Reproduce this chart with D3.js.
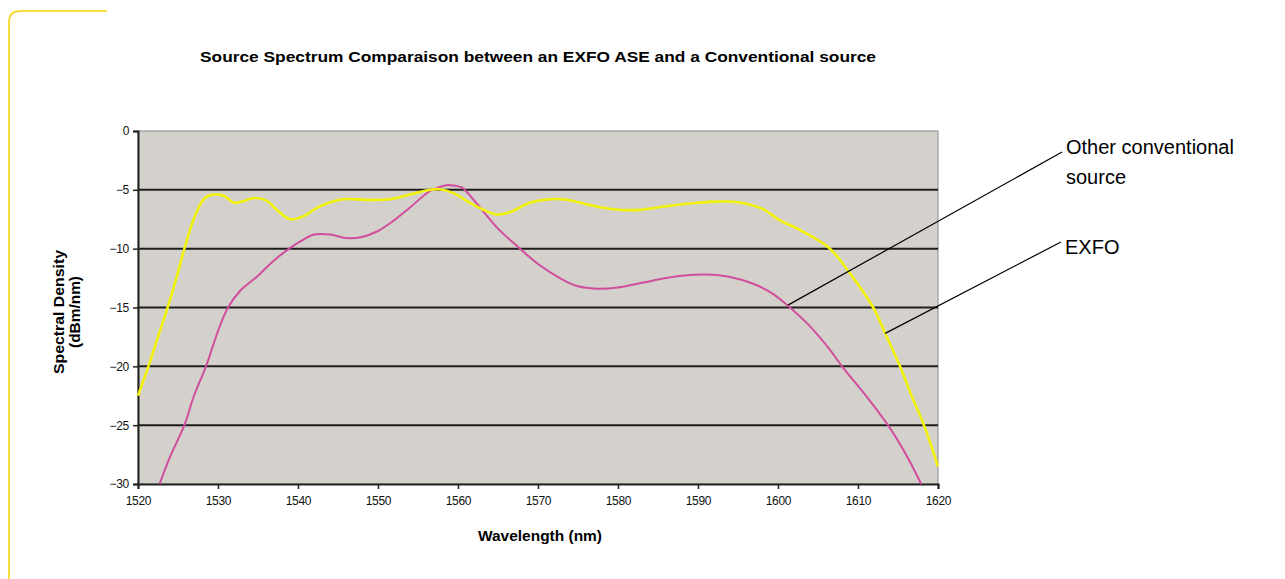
<!doctype html>
<html>
<head>
  <meta charset="utf-8" />
  <title>Source Spectrum Comparaison</title>
  <script src="https://cdn.jsdelivr.net/npm/d3@7"></script>
  <style>
  html,body{margin:0;padding:0;background:#fff;}
  svg{display:block;}
  .tick text{font-family:"Liberation Sans",Arial,sans-serif;font-size:12px;fill:#111;letter-spacing:-0.3px;}
  </style>
</head>
<body>
<div id="chart"></div>
<script type="text/javascript">
// wavelength (nm) / density (dBm/nm)
var exfoNm = [1520,1521.3,1522.5,1523.7,1524.8,1525.8,1526.9,1528,1528.8,1530.7,1532,1533,1534.6,1536,1537.5,1539,1540.5,1542.75,1545.6,1548.5,1551.5,1554,1556.5,1557.75,1559.5,1562,1564.8,1566.5,1569,1571.5,1573.6,1576.5,1579.4,1582.75,1586,1590,1592.5,1595,1598,1600.25,1603,1606.5,1609,1611.9,1613.4,1615.25,1616.7,1618.25,1620];
var exfoDb = [-22.5,-20,-17.5,-15,-12.5,-10,-7.6,-6.0,-5.5,-5.5,-6.1,-6.0,-5.7,-5.9,-6.8,-7.5,-7.3,-6.4,-5.8,-5.85,-5.8,-5.4,-5.0,-4.95,-5.3,-6.3,-7.1,-6.9,-6.1,-5.8,-5.85,-6.3,-6.65,-6.7,-6.4,-6.1,-6.0,-6.05,-6.6,-7.6,-8.5,-10,-12.1,-15,-17.2,-20,-22.5,-25,-28.5];

var otherNm = [1522.7,1524,1525.8,1527,1528.5,1530,1531.25,1532.75,1535,1537,1538.9,1540.5,1542,1544,1546,1548,1550,1552,1554,1556.5,1558,1559,1560.5,1561,1563,1565,1567.75,1570,1573,1575,1577.3,1580,1583,1586,1588,1591,1594,1597,1599.5,1601.5,1604,1606.5,1608,1611,1613.75,1616,1617.9];
var otherDb = [-30,-27.7,-25,-22.5,-20,-17,-15,-13.6,-12.3,-11,-10,-9.3,-8.8,-8.8,-9.1,-9.0,-8.5,-7.6,-6.5,-5.1,-4.7,-4.6,-4.8,-5.1,-6.7,-8.3,-10,-11.3,-12.6,-13.2,-13.4,-13.3,-12.9,-12.5,-12.3,-12.2,-12.4,-13.0,-13.9,-15,-16.6,-18.6,-20,-22.5,-25,-27.5,-30];

var xTicks = [1520,1530,1540,1550,1560,1570,1580,1590,1600,1610,1620];
var yTicks = [0,-5,-10,-15,-20,-25,-30];

var W=1285,H=579;
var pLeft=138,pRight=938,pTop=131,pBottom=484;

var svg = d3.select("#chart").append("svg").attr("width",W).attr("height",H);

// yellow frame round the corner
svg.append("path")
   .attr("d","M9,579 L9,22 Q9,11 20,11 L107,11")
   .attr("fill","none").attr("stroke","#f7dc3c").attr("stroke-width",2);

var x = d3.scaleLinear().domain([1520,1620]).range([pLeft,pRight]);
var y = d3.scaleLinear().domain([-30,0]).range([pBottom,pTop]);

svg.append("rect").attr("x",pLeft).attr("y",pTop).attr("width",pRight-pLeft).attr("height",pBottom-pTop)
   .attr("fill","#d4d0cb").attr("stroke","#9a9a9a").attr("stroke-width",1.2);

// grid lines
svg.append("g").selectAll("line").data(yTicks.filter(function(d){return d>-30 && d<0;}))
   .enter().append("line")
   .attr("x1",pLeft).attr("x2",pRight)
   .attr("y1",function(d){return y(d);}).attr("y2",function(d){return y(d);})
   .attr("stroke","#1e1e1e").attr("stroke-width",2);

var yAxis = svg.append("g").attr("transform","translate("+pLeft+",0)")
   .call(d3.axisLeft(y).tickValues(yTicks).tickSize(5).tickPadding(4));
var xAxis = svg.append("g").attr("transform","translate(0,"+pBottom+")")
   .call(d3.axisBottom(x).tickValues(xTicks).tickSize(5).tickPadding(7).tickFormat(d3.format("d")));
[yAxis,xAxis].forEach(function(a){
  a.select(".domain").attr("stroke","#222").attr("stroke-width",2);
  a.selectAll(".tick line").attr("stroke","#222").attr("stroke-width",1.5);
});

var line = d3.line()
   .x(function(d){return x(d[0]);})
   .y(function(d){return y(d[1]);})
   .curve(d3.curveCatmullRom.alpha(0.5));

svg.append("path").datum(d3.zip(otherNm,otherDb))
   .attr("d",line).attr("fill","none").attr("stroke","#d14d9e").attr("stroke-width",2);
svg.append("path").datum(d3.zip(exfoNm,exfoDb))
   .attr("d",line).attr("fill","none").attr("stroke","#f2f20a").attr("stroke-width",2.6);

var bold = '"Liberation Sans",Arial,sans-serif';

svg.append("text").attr("x",538).attr("y",62).attr("text-anchor","middle")
   .attr("font-family",bold).attr("font-weight","bold").attr("font-size",15)
   .attr("textLength",676).attr("lengthAdjust","spacingAndGlyphs")
   .text("Source Spectrum Comparaison between an EXFO ASE and a Conventional source");

svg.append("text").attr("x",540).attr("y",541).attr("text-anchor","middle")
   .attr("font-family",bold).attr("font-weight","bold").attr("font-size",15)
   .attr("textLength",124).attr("lengthAdjust","spacingAndGlyphs")
   .text("Wavelength (nm)");

var yl = svg.append("text").attr("transform","translate(64,312) rotate(-90)")
   .attr("text-anchor","middle").attr("font-family",bold).attr("font-weight","bold").attr("font-size",15);
yl.append("tspan").attr("x",0).attr("dy",0).attr("textLength",124).attr("lengthAdjust","spacingAndGlyphs").text("Spectral Density");
yl.append("tspan").attr("x",0).attr("dy",16).attr("textLength",72).attr("lengthAdjust","spacingAndGlyphs").text("(dBm/nm)");

// callouts
var ann = '"Liberation Sans",Arial,Helvetica,sans-serif';
svg.append("line").attr("x1",x(1601.25)).attr("y1",y(-14.8)).attr("x2",1062).attr("y2",152)
   .attr("stroke","#000").attr("stroke-width",1.2);
svg.append("line").attr("x1",x(1613.4)).attr("y1",y(-17.2)).attr("x2",1061).attr("y2",242)
   .attr("stroke","#000").attr("stroke-width",1.2);
svg.append("text").attr("x",1066).attr("y",154).attr("font-family",ann).attr("font-size",20).text("Other conventional");
svg.append("text").attr("x",1066).attr("y",184).attr("font-family",ann).attr("font-size",20).text("source");
svg.append("text").attr("x",1065).attr("y",254).attr("font-family",ann).attr("font-size",20).text("EXFO");
</script>
</body>
</html>
